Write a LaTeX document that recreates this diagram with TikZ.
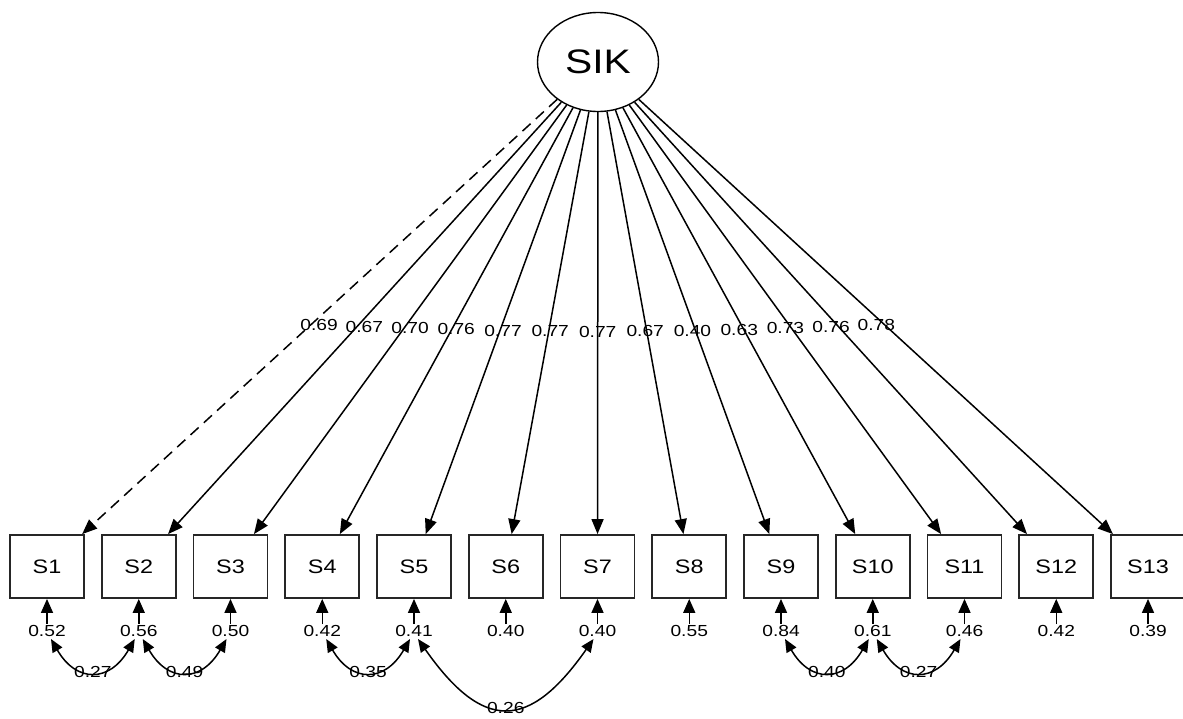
\documentclass[tikz,border=0pt]{standalone}
\usepackage{fontspec}
\setmainfont{Liberation Sans}[FakeStretch=1.2]
\usetikzlibrary{arrows.meta,shapes.geometric}
\begin{document}
\begin{tikzpicture}[x=1pt,y=-1pt,
  lat/.style={draw,line width=1.4pt,ellipse,minimum width=121pt,minimum height=99pt,inner sep=0pt,font=\fontsize{34}{38}\selectfont},
  man/.style={draw,black!85,text=black,line width=1.8pt,rectangle,minimum width=74pt,minimum height=63pt,inner sep=0pt,font=\fontsize{19.5}{22}\selectfont},
  res/.style={inner sep=1pt,font=\fontsize{16}{17}\selectfont},
  lbl/.style={inner sep=0pt,font=\fontsize{16}{17}\selectfont},
  arr/.style={line width=1.5pt,-{Triangle[length=15pt,width=12pt]}},
  cov/.style={line width=1.5pt,{Triangle[length=13pt,width=11pt]}-{Triangle[length=13pt,width=11pt]}},
  dashedload/.style={dash pattern=on 11pt off 7pt}]
\useasboundingbox (0,0) rectangle (1183,718);
\node[lat] (SIK) at (598,62) {SIK};
\foreach \i/\x/\r in {1/47/0.52,2/138.75/0.56,3/230.5/0.50,4/322.25/0.42,5/414/0.41,6/505.75/0.40,7/597.5/0.40,8/689.25/0.55,9/781/0.84,10/872.75/0.61,11/964.5/0.46,12/1056.25/0.42,13/1148/0.39}{
  \node[man] (S\i) at (\x,566.5) {S\i};
  \node[res] (r\i) at (\x,631) {\r};
  \draw[arr,-{Triangle[length=14pt,width=12pt]}] (r\i) -- (S\i);
  \coordinate (cL\i) at (\x-4,639);
  \coordinate (cR\i) at (\x+4,639);
}
\draw[arr,dashedload] (SIK) -- node[lbl,pos=0.52,xshift=9pt]{0.69} (S1);
\foreach \i/\l/\s in {2/0.67/7.5,3/0.70/6,4/0.76/4.5,5/0.77/3,6/0.77/1.5,7/0.77/0,8/0.67/-1.5,9/0.40/-3,10/0.63/-4.5,11/0.73/-6,12/0.76/-7.5,13/0.78/-9}{
  \draw[arr] (SIK) -- node[lbl,pos=0.52,xshift=\s pt]{\l} (S\i);
}
\draw[cov] (cR1) to[out=-60,in=-120,looseness=1.55] node[lbl,midway]{0.27} (cL2);
\draw[cov] (cR2) to[out=-60,in=-120,looseness=1.55] node[lbl,midway]{0.49} (cL3);
\draw[cov] (cR4) to[out=-60,in=-120,looseness=1.55] node[lbl,midway]{0.35} (cL5);
\draw[cov] (cR5) to[out=-55,in=-125,looseness=1.65] node[lbl,midway]{0.26} (cL7);
\draw[cov] (cR9) to[out=-60,in=-120,looseness=1.55] node[lbl,midway]{0.40} (cL10);
\draw[cov] (cR10) to[out=-60,in=-120,looseness=1.55] node[lbl,midway]{0.27} (cL11);
\end{tikzpicture}
\end{document}
